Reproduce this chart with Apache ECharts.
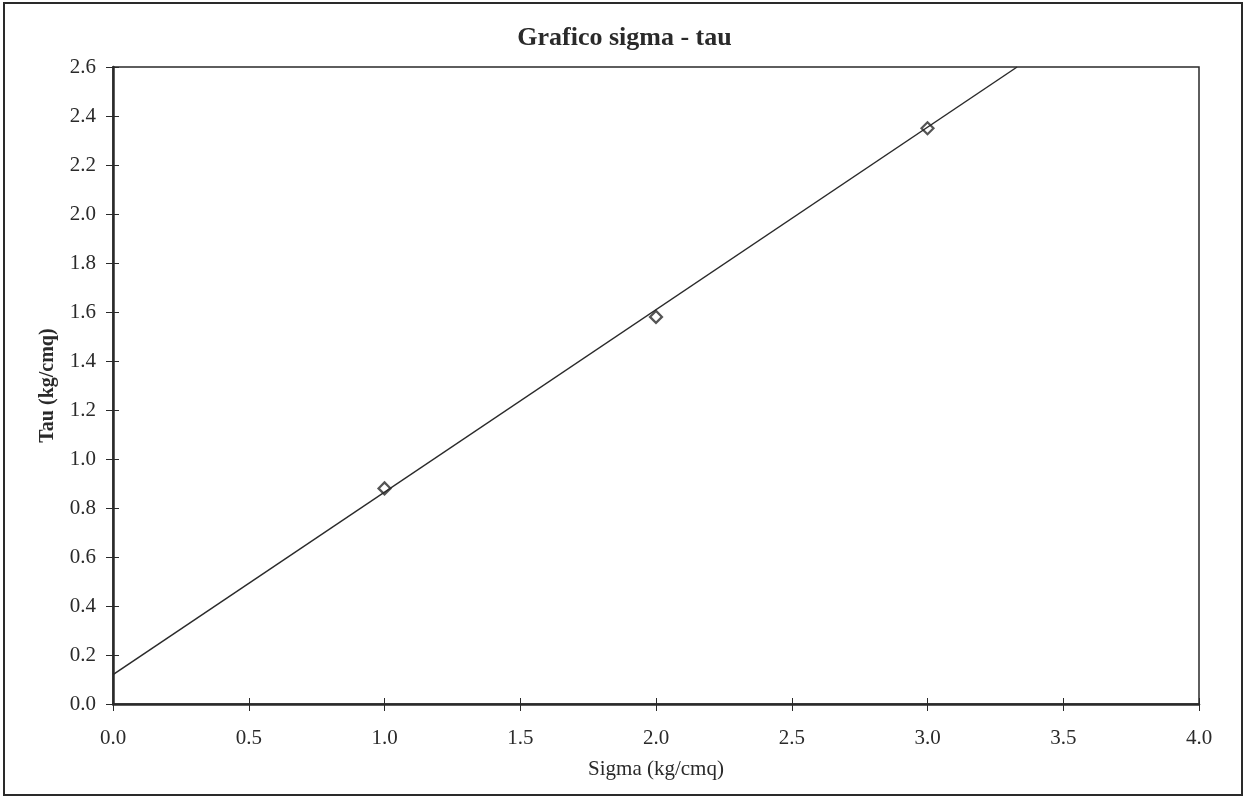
<!DOCTYPE html>
<html>
<head>
<meta charset="utf-8">
<script src="https://cdn.jsdelivr.net/npm/echarts@6/dist/echarts.min.js"></script>
<style>
  html, body { margin: 0; padding: 0; background: #fff; }
  #main { width: 1249px; height: 798px; }
</style>
</head>
<body>
<div id="main"></div>
<script>
// measured points (sigma, tau)
const sigma = [1.0, 2.0, 3.0]
const tau = [0.88, 1.58, 2.35]
// linear trend line end points
const trendSigma = [0, 3.33]
const trendTau = [0.12, 2.6]
const xTicks = [0, 0.5, 1, 1.5, 2, 2.5, 3, 3.5, 4]

const ink = '#2a2a2a'
const font = '"Liberation Serif", "DejaVu Serif", serif'

const chart = echarts.init(document.getElementById('main'))

// a second, label-less axis puts the inner half of the crossing ticks
const innerTicks = {
    axisLine: { show: false },
    axisTick: { show: true, inside: true, length: 6, lineStyle: { color: ink } },
    axisLabel: { show: false },
    splitLine: { show: false }
}

const option = {
    backgroundColor: '#fff',
    animation: false,
    textStyle: { fontFamily: font, color: ink },
    title: {
        text: 'Grafico sigma - tau',
        left: 'center',
        top: 20,
        textStyle: { fontFamily: font, fontSize: 26, fontWeight: 'bold', color: ink }
    },
    grid: { left: 113, right: 50, top: 67, bottom: 94, show: true, borderColor: ink, borderWidth: 1.5 },
    xAxis: [
        {
            type: 'value',
            min: xTicks[0],
            max: xTicks[xTicks.length - 1],
            interval: 0.5,
            name: 'Sigma (kg/cmq)',
            nameLocation: 'middle',
            nameGap: 55,
            nameTextStyle: { fontFamily: font, fontSize: 21, color: ink },
            axisLine: { lineStyle: { color: ink, width: 2.5 } },
            axisTick: { length: 7, lineStyle: { color: ink } },
            axisLabel: { fontFamily: font, fontSize: 21, color: ink, margin: 24, formatter: v => v.toFixed(1) },
            splitLine: { show: false }
        },
        Object.assign({ type: 'value', min: 0, max: 4, interval: 0.5, position: 'bottom' }, innerTicks)
    ],
    yAxis: [
        {
            type: 'value',
            min: 0,
            max: 2.6,
            interval: 0.2,
            name: 'Tau (kg/cmq)',
            nameLocation: 'middle',
            nameGap: 55,
            nameTextStyle: { fontFamily: font, fontSize: 20, fontWeight: 'bold', color: ink },
            axisLine: { show: true, lineStyle: { color: ink, width: 2.5 } },
            axisTick: { show: true, length: 7, lineStyle: { color: ink } },
            axisLabel: { fontFamily: font, fontSize: 21, color: ink, margin: 17, formatter: v => v.toFixed(1) },
            splitLine: { show: false }
        },
        Object.assign({ type: 'value', min: 0, max: 2.6, interval: 0.2, position: 'left' }, innerTicks)
    ],
    series: [
        {
            name: 'trend',
            type: 'line',
            data: trendSigma.map((x, i) => [x, trendTau[i]]),
            showSymbol: false,
            lineStyle: { color: ink, width: 1.5 },
            silent: true
        },
        {
            name: 'tau',
            type: 'scatter',
            data: sigma.map((x, i) => [x, tau[i]]),
            symbol: 'diamond',
            symbolSize: 12,
            itemStyle: { color: '#fff', borderColor: ink, borderWidth: 2.2 }
        }
    ],
    graphic: [
        {
            type: 'rect',
            shape: { x: 4, y: 3, width: 1238, height: 792 },
            style: { fill: 'none', stroke: ink, lineWidth: 2 },
            silent: true
        }
    ]
}

chart.setOption(option)
</script>
</body>
</html>
